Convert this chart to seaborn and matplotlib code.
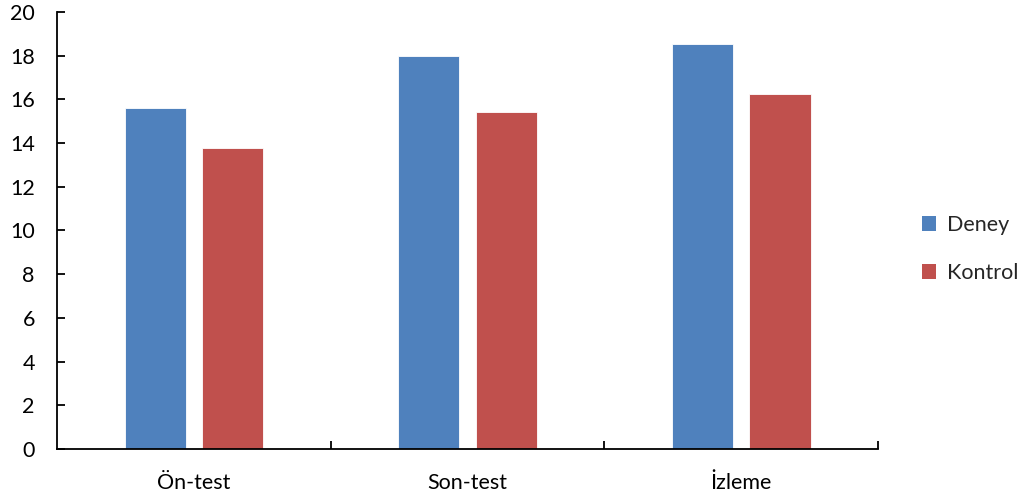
import matplotlib
matplotlib.use("Agg")
import matplotlib.pyplot as plt
import seaborn as sns
import pandas as pd
from matplotlib.patches import Patch

# Mean scores per measurement phase
phases = ["Ön-test", "Son-test", "İzleme"]
groups = ["Deney", "Kontrol"]
deney_scores = [15.62, 17.98, 18.53]
kontrol_scores = [13.76, 15.41, 16.25]
y_ticks = [0, 2, 4, 6, 8, 10, 12, 14, 16, 18, 20]

colors = {"Deney": "#4F81BD", "Kontrol": "#C0504D"}

df = pd.DataFrame({
    "phase": phases * 2,
    "group": [groups[0]] * len(phases) + [groups[1]] * len(phases),
    "score": deney_scores + kontrol_scores,
})

sns.set_style("white")
plt.rcParams["font.family"] = ["Lato", "DejaVu Sans"]

fig = plt.figure(figsize=(10.27, 4.95), dpi=100)
ax = fig.add_axes([0.0555, 0.093, 0.7995, 0.8828])

sns.barplot(data=df, x="phase", y="score", hue="group", order=phases,
            hue_order=groups, palette=colors, width=0.566, gap=0.21,
            saturation=1, errorbar=None, edgecolor="white", linewidth=0.6,
            legend=False, ax=ax)

ax.set_xlim(-0.5, len(phases) - 0.5)
ax.set_ylim(0, 20)
ax.set_yticks(y_ticks)
ax.set_xlabel("")
ax.set_ylabel("")

for side in ("top", "right"):
    ax.spines[side].set_visible(False)
for side in ("left", "bottom"):
    ax.spines[side].set_color("black")
    ax.spines[side].set_linewidth(1.3)

ax.tick_params(axis="y", left=True, direction="in", length=6, width=1.3,
               colors="black", labelsize=15.5, pad=16)
ax.tick_params(axis="x", which="major", bottom=True, length=0,
               labelsize=15.5, pad=17)
ax.set_xticks([i + 0.5 for i in range(len(phases))], minor=True)
ax.tick_params(axis="x", which="minor", bottom=True, direction="in", length=6,
               width=1.3, colors="black")
for lbl in ax.get_xticklabels() + ax.get_yticklabels():
    lbl.set_color("black")

handles = [Patch(facecolor=colors[g], edgecolor="none", label=g) for g in groups]
fig.legend(handles=handles, loc="center left", bbox_to_anchor=(0.879, 0.497),
           frameon=False, fontsize=15.5, handlelength=0.65, handleheight=0.65,
           handletextpad=0.5, labelspacing=1.3)

fig.savefig("out.png", dpi=100)
